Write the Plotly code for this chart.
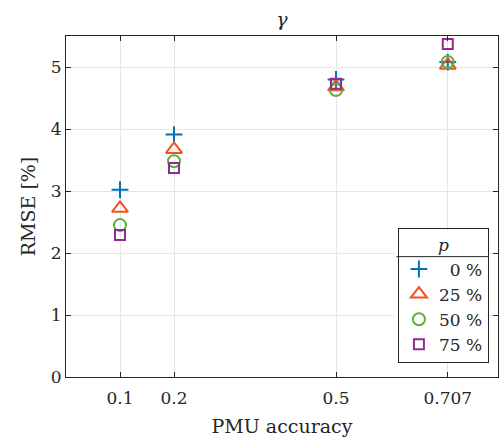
import plotly.graph_objects as go

x_vals = [0.1, 0.2, 0.5, 0.707]
x_ticklabels = ["0.1", "0.2", "0.5", "0.707"]
p0 = [3.02, 3.91, 4.80, 5.08]
p25 = [2.72, 3.67, 4.68, 5.03]
p50 = [2.45, 3.48, 4.63, 5.08]
p75 = [2.29, 3.37, 4.73, 5.37]
series_names = ["\u20070 %", "25 %", "50 %", "75 %"]
y_ticks = [0, 1, 2, 3, 4, 5]

colors = ["#0072BD", "#F5501E", "#5BB040", "#8E2C8F"]
symbols = ["cross-thin-open", "triangle-up-open", "circle-open", "square-open"]
sizes = [12, 14, 12, 10]

fig = go.Figure()
for name, ys, c, s, sz in zip(series_names, [p0, p25, p50, p75], colors, symbols, sizes):
    fig.add_trace(go.Scatter(
        x=x_vals, y=ys, mode="markers", name=name,
        marker=dict(symbol=s, size=sz, color=c, line=dict(color=c, width=2)),
    ))

font = "DejaVu Serif"
fig.update_layout(
    width=500, height=441,
    margin=dict(l=66, r=2, t=36, b=64),
    paper_bgcolor="white", plot_bgcolor="white",
    font=dict(family=font, size=17, color="#262626"),
    title=dict(text="<i>γ</i>", x=0.5, xref="paper", xanchor="center", y=0.955, yanchor="middle",
               font=dict(family=font, size=19, color="#262626")),
    showlegend=True,
    legend=dict(
        x=0.979, xanchor="right", y=0.04, yanchor="bottom",
        bordercolor="#262626", borderwidth=1, bgcolor="rgba(0,0,0,0)",
        title=dict(text="<i>p</i>", side="top center", font=dict(family=font, size=17)),
        font=dict(family=font, size=17, color="#262626"),
        tracegroupgap=0, itemsizing="trace",
    ),
)
fig.update_xaxes(
    range=[0, 0.8], tickmode="array", tickvals=x_vals, ticktext=x_ticklabels,
    showgrid=True, gridcolor="#E6E6E6", gridwidth=1,
    showline=True, linecolor="#262626", linewidth=1, mirror="ticks",
    ticks="inside", ticklen=5, tickcolor="#262626", zeroline=False,
    ticklabelstandoff=6,
    title=dict(text="PMU accuracy", font=dict(family=font, size=19), standoff=12),
)
fig.update_yaxes(
    range=[0, 5.5], tickmode="array", tickvals=y_ticks,
    showgrid=True, gridcolor="#E6E6E6", gridwidth=1,
    showline=True, linecolor="#262626", linewidth=1, mirror="ticks",
    ticks="inside", ticklen=5, tickcolor="#262626", zeroline=False,
    title=dict(text="RMSE [%]", font=dict(family=font, size=19), standoff=10),
)
fig.add_shape(type="rect", xref="paper", yref="paper", x0=0.762, x1=0.979, y0=0.04, y1=0.43,
              fillcolor="white", line=dict(width=0), layer="above")
fig.add_shape(type="line", xref="paper", yref="paper", x0=0.765, x1=0.979, y0=0.353, y1=0.353,
              line=dict(color="#262626", width=1), layer="above")
fig.write_html("out.html")
